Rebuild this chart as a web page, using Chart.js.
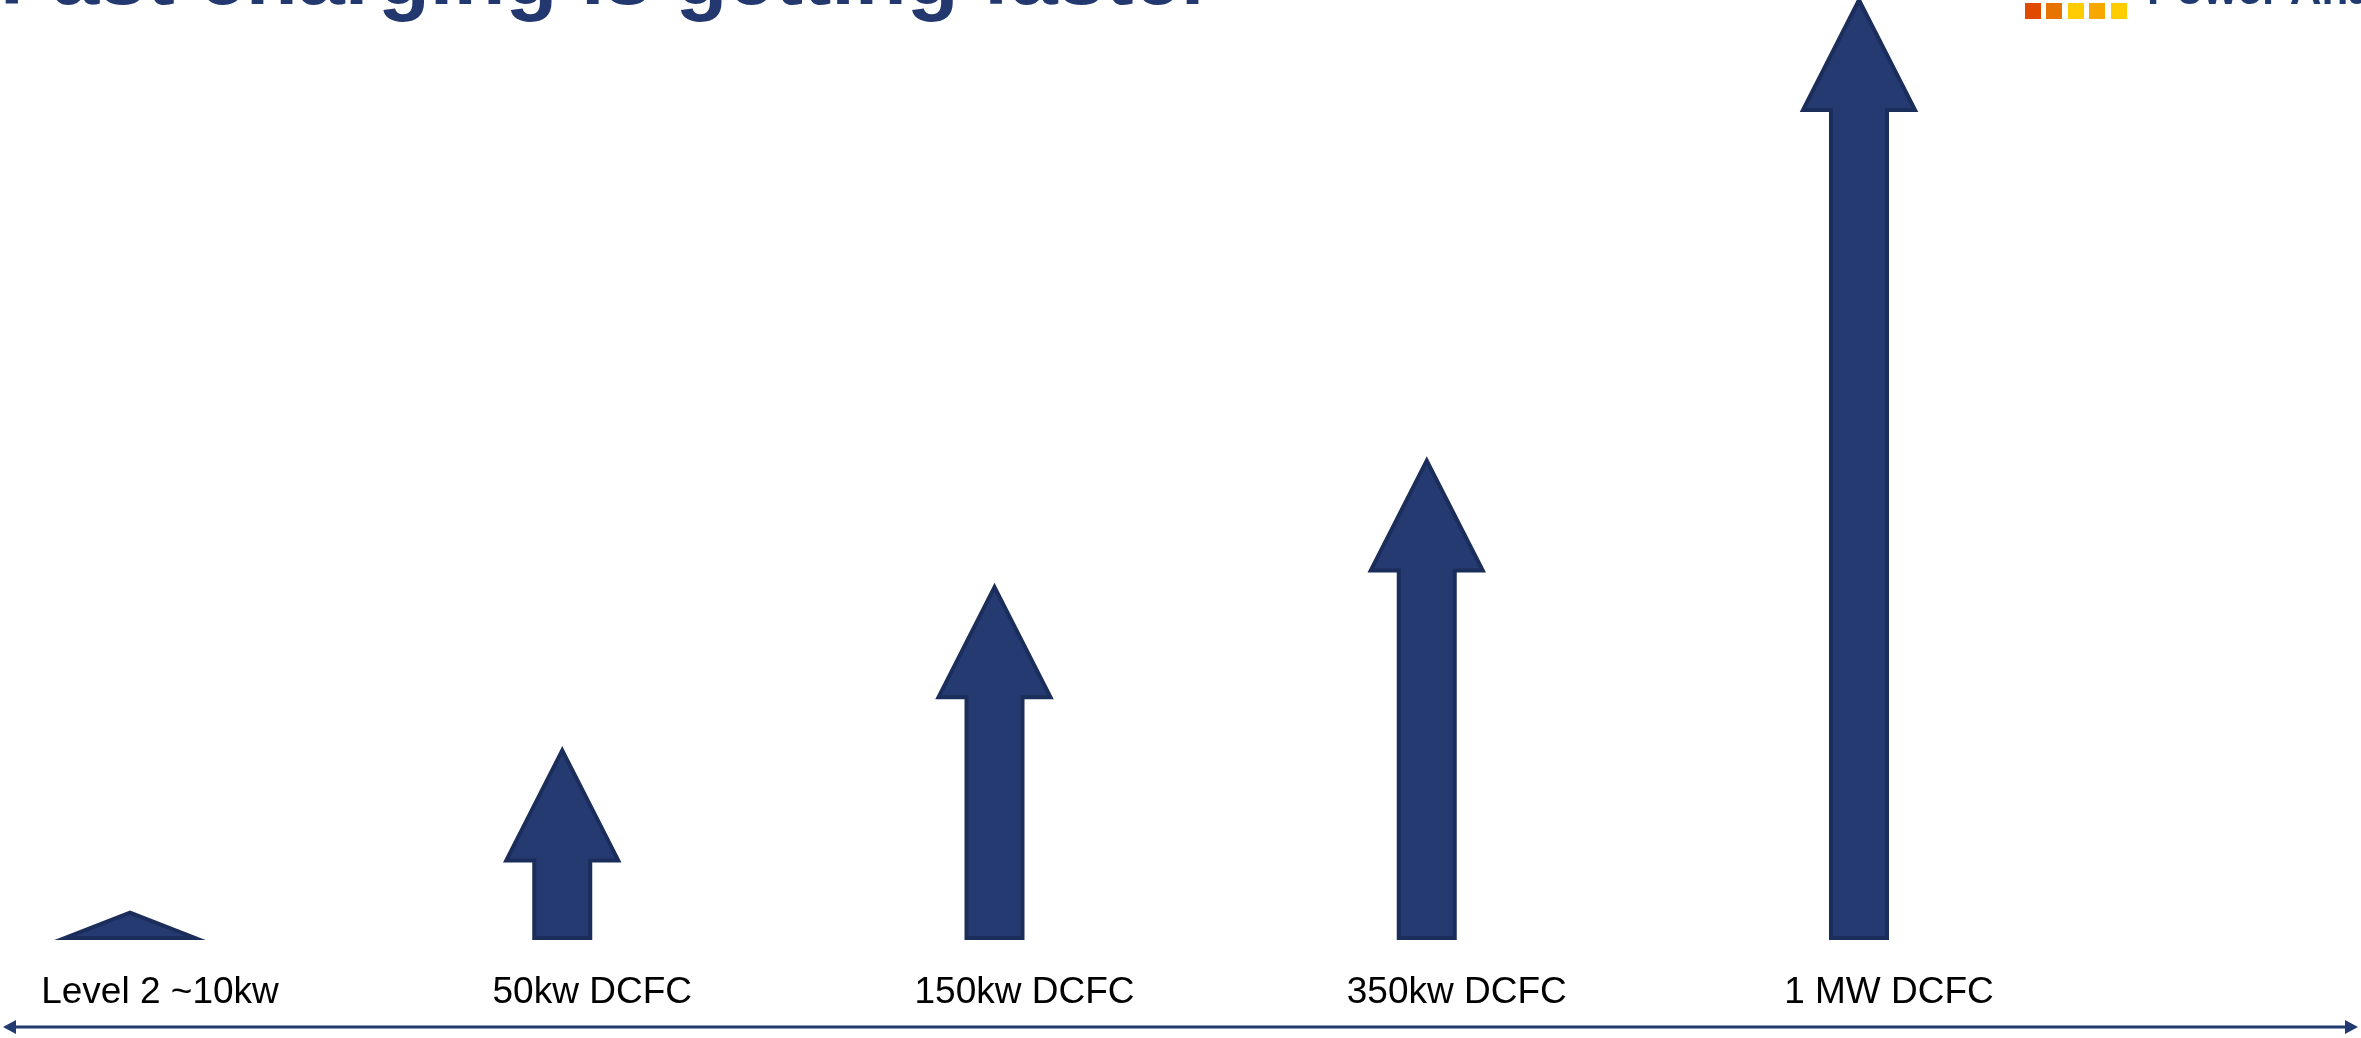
<!DOCTYPE html>
<html>
<head>
<meta charset="utf-8">
<title>Fast charging is getting faster</title>
<script src="https://cdn.jsdelivr.net/npm/chart.js@4"></script>
<style>
    html, body { margin: 0; padding: 0; background: #fff; overflow: hidden; }
    #wrap { position: relative; width: 2361px; height: 1038px; overflow: hidden; }
    #chartBox { position: absolute; left: 0; top: 0; width: 2361px; height: 1038px; }
    #title {
        position: absolute; left: 0; top: -68px; z-index: 2;
        font: bold 85px/1 "Liberation Sans", Arial, sans-serif;
        color: #22386f; white-space: nowrap;
    }
    #logoText {
        position: absolute; left: 2147px; top: -33px; z-index: 2;
        font: bold 44px/1 "Liberation Sans", Arial, sans-serif;
        color: #1f3a70; white-space: nowrap;
    }
    .sq { position: absolute; top: 3px; width: 16px; height: 16px; z-index: 2; }
</style>
</head>
<body>
<div id="wrap">
    <div id="title">Fast charging is getting faster</div>
    <div class="sq" style="left:2025px;background:#e04a00"></div>
    <div class="sq" style="left:2046px;background:#e87400"></div>
    <div class="sq" style="left:2068px;background:#ffcc00"></div>
    <div class="sq" style="left:2089px;background:#f7a800"></div>
    <div class="sq" style="left:2111px;background:#ffcc00"></div>
    <div id="logoText">Power Analytics</div>
    <div id="chartBox"><canvas id="chart"></canvas></div>
</div>
<script>
// charger levels and arrow heights (share of the tallest arrow)
const chargers = ['Level 2 ~10kw', '50kw DCFC', '150kw DCFC', '350kw DCFC', '1 MW DCFC'];
const arrowHeights = [2.7, 20.0, 37.4, 50.9, 100];

const ARROW_FILL = '#243a71';
const ARROW_EDGE = '#1b2d5a';
const HEAD_LEN = 110;

// draws each bar as an up arrow, using the bar geometry chart.js computed
const arrowPlugin = {
    id: 'arrows',
    afterDatasetsDraw(chart) {
        const ctx = chart.ctx;
        chart.getDatasetMeta(0).data.forEach(bar => {
            const { x, y, base, width } = bar.getProps(['x', 'y', 'base', 'width'], true);
            const half = width / 2;
            ctx.save();
            ctx.beginPath();
            if (base - y < HEAD_LEN) {
                // too short for a shaft: only a flat head
                ctx.moveTo(x, y);
                ctx.lineTo(x + 65, base);
                ctx.lineTo(x - 65, base);
            } else {
                const neck = y + HEAD_LEN;
                ctx.moveTo(x, y);
                ctx.lineTo(x + width, neck);
                ctx.lineTo(x + half, neck);
                ctx.lineTo(x + half, base);
                ctx.lineTo(x - half, base);
                ctx.lineTo(x - half, neck);
                ctx.lineTo(x - width, neck);
            }
            ctx.closePath();
            ctx.fillStyle = ARROW_FILL;
            ctx.fill();
            ctx.lineWidth = 4;
            ctx.lineJoin = 'miter';
            ctx.strokeStyle = ARROW_EDGE;
            ctx.stroke();
            ctx.restore();
        });
    }
};

// long double-headed line along the bottom
const baselinePlugin = {
    id: 'baseline',
    afterDraw(chart) {
        const ctx = chart.ctx;
        const w = chart.width;
        const y = 1027;
        ctx.save();
        ctx.strokeStyle = '#213a70';
        ctx.fillStyle = '#213a70';
        ctx.lineWidth = 3;
        ctx.beginPath();
        ctx.moveTo(12, y);
        ctx.lineTo(w - 12, y);
        ctx.stroke();
        ctx.beginPath();
        ctx.moveTo(3, y);
        ctx.lineTo(16, y - 7);
        ctx.lineTo(16, y + 7);
        ctx.closePath();
        ctx.fill();
        ctx.beginPath();
        ctx.moveTo(w - 3, y);
        ctx.lineTo(w - 16, y - 7);
        ctx.lineTo(w - 16, y + 7);
        ctx.closePath();
        ctx.fill();
        ctx.restore();
    }
};

new Chart(document.getElementById('chart').getContext('2d'), {
    type: 'bar',
    data: {
        labels: chargers,
        datasets: [{
            label: 'Charging power',
            data: arrowHeights,
            backgroundColor: 'rgba(0,0,0,0)',
            borderWidth: 0,
            barThickness: 56,
            clip: false
        }]
    },
    options: {
        responsive: true,
        maintainAspectRatio: false,
        animation: false,
        layout: { padding: { left: 130, right: 502, top: 0, bottom: 0 } },
        plugins: {
            legend: { display: false },
            tooltip: { enabled: false },
            title: { display: false }
        },
        scales: {
            x: {
                offset: false,
                afterFit(scale) {
                    scale.height = 100;
                    scale.paddingLeft = 0;
                    scale.paddingRight = 0;
                },
                grid: { display: false, drawTicks: false },
                border: { display: false },
                ticks: {
                    color: '#000',
                    padding: 33,
                    labelOffset: 30,
                    maxRotation: 0,
                    autoSkip: false,
                    font: { family: '"Liberation Sans", Arial, sans-serif', size: 37, lineHeight: 1.2 }
                }
            },
            y: {
                display: false,
                min: 0,
                max: 100
            }
        }
    },
    plugins: [arrowPlugin, baselinePlugin]
});
</script>
</body>
</html>
